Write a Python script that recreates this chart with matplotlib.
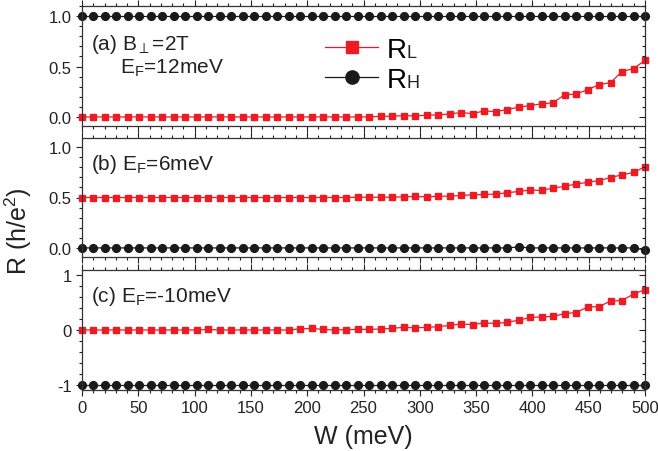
import numpy as np
import matplotlib
matplotlib.use('Agg')
import matplotlib.pyplot as plt
from matplotlib.ticker import MultipleLocator, FormatStrFormatter

plt.rcParams['font.family'] = ['Liberation Sans', 'DejaVu Sans']
plt.rcParams['mathtext.fontset'] = 'custom'
plt.rcParams['mathtext.rm'] = 'Liberation Sans'
plt.rcParams['mathtext.it'] = 'Liberation Sans:italic'
plt.rcParams['axes.unicode_minus'] = False

# W grid (meV), 50 samples between 0 and 500
W = np.linspace(0, 500, 50)

# panel (a): B_perp = 2T, E_F = 12 meV
RL_a = [0.0] * 22 + [
    0.0, 0.0, 0.0, 0.0, 0.007, 0.007, 0.013, 0.01, 0.017, 0.02,
    0.03, 0.043, 0.033, 0.06, 0.053, 0.073, 0.096, 0.113, 0.13, 0.14,
    0.22, 0.226, 0.27, 0.32, 0.34, 0.45, 0.48, 0.56]
RH_a = [1.0] * 50

# panel (b): E_F = 6 meV
RL_b = [0.5] * 23 + [
    0.5, 0.503, 0.503, 0.503, 0.503, 0.507, 0.51, 0.507, 0.513, 0.513,
    0.52, 0.527, 0.53, 0.534, 0.547, 0.56, 0.574, 0.57, 0.594, 0.61,
    0.634, 0.65, 0.668, 0.698, 0.725, 0.748, 0.805]
RH_b = [0.0] * 38 + [0.01] + [0.0] * 10 + [-0.02]

# panel (c): E_F = -10 meV
RL_c = [0.0] * 11 + [0.01] + [0.0] * 7 + [0.02, 0.03, 0.01] + [
    0.0, 0.006, 0.012, 0.012, 0.018, 0.03, 0.05, 0.04, 0.05, 0.06,
    0.085, 0.11, 0.10, 0.13, 0.12, 0.14, 0.18, 0.23, 0.24, 0.25,
    0.30, 0.32, 0.42, 0.43, 0.53, 0.54, 0.66, 0.74]
RH_c = [-1.0] * 50

panels = [
    (RL_a, RH_a, (-0.09, 1.1), [0, 0.5, 1.0], 0.1, '%.1f'),
    (RL_b, RH_b, (-0.09, 1.09), [0, 0.5, 1.0], 0.1, '%.1f'),
    (RL_c, RH_c, (-1.1, 1.1), [-1, 0, 1], 0.2, '%d'),
]
labels = [
    [(0.016, 0.64, '(a) B$_\\perp$=2T'), (0.067, 0.44, 'E$_\\mathregular{F}$=12meV')],
    [(0.016, 0.74, '(b) E$_\\mathregular{F}$=6meV')],
    [(0.016, 0.74, '(c) E$_\\mathregular{F}$=-10meV')],
]

RED = '#ed1c24'
BLACK = '#1a1a1a'

fig = plt.figure(figsize=(6.58, 4.52), dpi=100)

left, right = 82 / 658., 645 / 658.
boxes = [(7, 127), (139, 258), (271, 391)]

axes = []
for i, (rl, rh, ylim, yt, ymin, fmt) in enumerate(panels):
    top, bot = boxes[i]
    ax = fig.add_axes([left, 1 - bot / 452., right - left, (bot - top) / 452.])
    axes.append(ax)

    l1, = ax.plot(W, rl, '-s', color=RED, ms=5, lw=0.9, mec=RED, label='R')
    l2, = ax.plot(W, rh, '-o', color=BLACK, ms=5.6, lw=0.9, label='R')
    l2.set_clip_on(False)
    l1.set_clip_on(False)

    ax.set_xlim(0, 500)
    ax.set_ylim(*ylim)
    ax.xaxis.set_major_locator(MultipleLocator(50))
    ax.xaxis.set_minor_locator(MultipleLocator(10))
    ax.set_yticks(yt)
    ax.yaxis.set_minor_locator(MultipleLocator(ymin))
    ax.yaxis.set_major_formatter(FormatStrFormatter(fmt))

    ax.tick_params(axis='both', which='both', direction='out', top=True,
                   right=False, labelsize=12, width=0.8, colors='#222222')
    ax.tick_params(which='major', length=4)
    ax.tick_params(which='minor', length=2.5)
    if i < 2:
        ax.tick_params(labelbottom=False)
    for s in ax.spines.values():
        s.set_linewidth(0.9)
        s.set_color('#333333')

    # right side ticks point inward
    axr = ax.twinx()
    axr.set_ylim(*ylim)
    axr.set_yticks(yt)
    axr.yaxis.set_minor_locator(MultipleLocator(ymin))
    axr.tick_params(axis='y', which='both', direction='in', labelright=False,
                    width=0.8, colors='#222222')
    axr.tick_params(which='major', length=4)
    axr.tick_params(which='minor', length=2.5)
    for s in axr.spines.values():
        s.set_visible(False)

    for (tx, ty, s) in labels[i]:
        ax.text(tx, ty, s, transform=ax.transAxes, fontsize=15,
                va='baseline', ha='left', color='#222222')

    if i == 0:
        leg = ax.legend(handles=[l1, l2], loc='upper left',
                        bbox_to_anchor=(0.432, 0.745), frameon=False,
                        fontsize=20, handlelength=1.9, handletextpad=0.3,
                        labelspacing=0.16, borderpad=0, borderaxespad=0,
                        markerscale=1.7)

fig.text(18 / 658., 1 - 231 / 452., 'R (h/e$^\\mathregular{2}$)', rotation=90,
         fontsize=18, ha='center', va='center', color='#222222')
fig.text((left + right) / 2, 1 - 437 / 452., 'W (meV)', fontsize=18,
         ha='center', va='center', color='#222222')

# small letters following the big "R" in the legend
fig.canvas.draw()
renderer = fig.canvas.get_renderer()
for t, sub in zip(leg.get_texts(), ['L', 'H']):
    bb = t.get_window_extent(renderer)
    # text boxes reach down to the descent of "lp"
    _, _, d = renderer.get_text_width_height_descent(
        'lp', t.get_fontproperties(), ismath=False)
    fig.text(bb.x1 / fig.bbox.width, (bb.y0 + d) / fig.bbox.height, sub,
             fontsize=13, va='baseline', ha='left', color='#222222')

fig.savefig('out.png', dpi=100)
